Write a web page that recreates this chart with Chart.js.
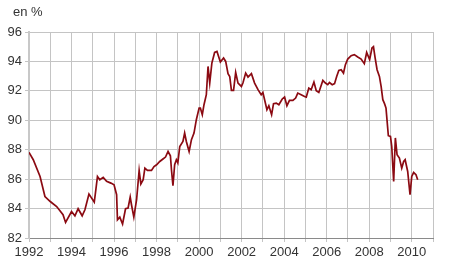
<!DOCTYPE html>
<html>
<head>
<meta charset="utf-8">
<script src="https://cdn.jsdelivr.net/npm/chart.js@4/dist/chart.umd.min.js"></script>
<style>
  html, body { margin: 0; padding: 0; background: #fff; }
  #wrap { width: 450px; height: 279px; position: relative; }
</style>
</head>
<body>
<div id="wrap"><canvas id="c" width="450" height="279"></canvas></div>
<script>
const unitLabel = "en %";
const yearTicks = [1992, 1994, 1996, 1998, 2000, 2002, 2004, 2006, 2008, 2010];
const valueTicks = [82, 84, 86, 88, 90, 92, 94, 96];

const dates = [
  1992.00, 1992.20, 1992.52, 1992.75, 1993.00, 1993.30, 1993.60, 1993.72, 1994.00, 1994.16,
  1994.31, 1994.50, 1994.63, 1994.82, 1995.07, 1995.15, 1995.22, 1995.33, 1995.49, 1995.65,
  1995.85, 1996.00, 1996.12, 1996.16, 1996.27, 1996.40, 1996.54, 1996.66, 1996.76, 1996.82,
  1996.93, 1997.06, 1997.18, 1997.26, 1997.37, 1997.45, 1997.57, 1997.76, 1997.88, 1998.00,
  1998.15, 1998.30, 1998.42, 1998.54, 1998.65, 1998.70, 1998.77, 1998.85, 1998.93, 1999.00,
  1999.09, 1999.24, 1999.32, 1999.40, 1999.53, 1999.64, 1999.76, 1999.87, 2000.00, 2000.06,
  2000.15, 2000.23, 2000.34, 2000.42, 2000.50, 2000.60, 2000.73, 2000.84, 2001.00, 2001.15,
  2001.25, 2001.36, 2001.44, 2001.52, 2001.62, 2001.72, 2001.83, 2001.99, 2002.06, 2002.19,
  2002.30, 2002.46, 2002.61, 2002.77, 2002.92, 2003.00, 2003.08, 2003.19, 2003.28, 2003.41,
  2003.50, 2003.63, 2003.75, 2003.91, 2004.02, 2004.13, 2004.25, 2004.41, 2004.54, 2004.64,
  2004.80, 2004.96, 2005.04, 2005.16, 2005.27, 2005.40, 2005.51, 2005.63, 2005.82, 2005.94,
  2006.05, 2006.13, 2006.26, 2006.37, 2006.47, 2006.57, 2006.68, 2006.79, 2006.88, 2006.99,
  2007.15, 2007.30, 2007.46, 2007.62, 2007.77, 2007.88, 2008.02, 2008.13, 2008.20, 2008.28,
  2008.37, 2008.48, 2008.56, 2008.64, 2008.72, 2008.79, 2008.90, 2009.00, 2009.06, 2009.15,
  2009.23, 2009.31, 2009.42, 2009.53, 2009.62, 2009.69, 2009.81, 2009.92, 2010.00, 2010.09,
  2010.20, 2010.28
];
const rates = [
  87.82, 87.32, 86.18, 84.82, 84.48, 84.14, 83.58, 83.06, 83.80, 83.51,
  83.99, 83.51, 83.92, 84.99, 84.44, 85.35, 86.18, 85.96, 86.12, 85.85,
  85.73, 85.62, 84.94, 83.24, 83.42, 82.95, 83.99, 84.04, 84.78, 84.26,
  83.42, 84.60, 86.59, 85.67, 85.96, 86.75, 86.59, 86.59, 86.86, 86.98,
  87.20, 87.37, 87.50, 87.88, 87.59, 86.64, 85.55, 86.98, 87.32, 87.10,
  88.22, 88.56, 89.13, 88.56, 87.88, 88.68, 89.13, 90.04, 90.83, 90.83,
  90.38, 91.06, 91.74, 93.66, 92.53, 93.89, 94.61, 94.68, 93.96, 94.23,
  94.00, 93.17, 92.98, 92.03, 92.03, 93.25, 92.53, 92.30, 92.53, 93.21,
  92.94, 93.17, 92.53, 92.08, 91.74, 91.89, 91.40, 90.72, 90.99, 90.38,
  91.13, 91.17, 91.06, 91.45, 91.58, 90.99, 91.35, 91.35, 91.51, 91.85,
  91.74, 91.62, 91.58, 92.19, 92.08, 92.60, 92.01, 91.89, 92.71, 92.53,
  92.42, 92.57, 92.42, 92.49, 92.98, 93.39, 93.44, 93.21, 93.78, 94.16,
  94.39, 94.46, 94.30, 94.16, 93.85, 94.61, 94.12, 94.91, 95.00, 94.23,
  93.44, 92.98, 92.30, 91.40, 91.13, 90.83, 88.95, 88.90, 88.22, 85.85,
  88.80, 87.66, 87.43, 86.75, 87.20, 87.32, 86.52, 84.94, 86.18, 86.45,
  86.30, 85.96
];

const points = dates.map((d, i) => ({ x: d, y: rates[i] }));

const unitPlugin = {
  id: 'unitLabel',
  afterDraw(chart) {
    const ctx = chart.ctx;
    ctx.save();
    ctx.font = '13px "Liberation Sans", Arial, sans-serif';
    ctx.fillStyle = '#333';
    ctx.textBaseline = 'alphabetic';
    ctx.textAlign = 'left';
    ctx.fillText(unitLabel, 13, 16);
    ctx.restore();
  }
};

new Chart(document.getElementById('c'), {
  type: 'line',
  data: {
    datasets: [{
      data: points,
      borderColor: '#8b0a12',
      borderWidth: 1.7,
      pointRadius: 0,
      tension: 0,
      fill: false
    }]
  },
  options: {
    responsive: false,
    animation: false,
    parsing: true,
    layout: { padding: { top: 32, right: 17, left: 0, bottom: 0 } },
    plugins: { legend: { display: false }, tooltip: { enabled: false } },
    scales: {
      x: {
        type: 'linear',
        min: 1992,
        max: 2011,
        afterBuildTicks(scale) {
          const t = [];
          for (let y = 1992; y <= 2011; y++) t.push({ value: y });
          scale.ticks = t;
        },
        afterFit(scale) { scale.height = 41; },
        ticks: {
          autoSkip: false,
          maxRotation: 0,
          padding: 3,
          color: '#333',
          font: { family: '"Liberation Sans", Arial, sans-serif', size: 13 },
          callback: (v) => yearTicks.includes(v) ? String(v) : ''
        },
        grid: { color: '#c4c4c4', lineWidth: 1, tickLength: 4, drawTicks: true },
        border: { color: '#8a8a8a', width: 1 }
      },
      y: {
        min: 82,
        max: 96,
        afterBuildTicks(scale) { scale.ticks = valueTicks.map(v => ({ value: v })); },
        afterFit(scale) { scale.width = 29; },
        ticks: {
          padding: 3,
          color: '#333',
          font: { family: '"Liberation Sans", Arial, sans-serif', size: 13 },
          callback: (v) => String(v)
        },
        grid: { color: '#c4c4c4', lineWidth: 1, tickLength: 4, drawTicks: true },
        border: { color: '#c8c8c8', width: 2 }
      }
    }
  },
  plugins: [unitPlugin]
});
</script>
</body>
</html>
